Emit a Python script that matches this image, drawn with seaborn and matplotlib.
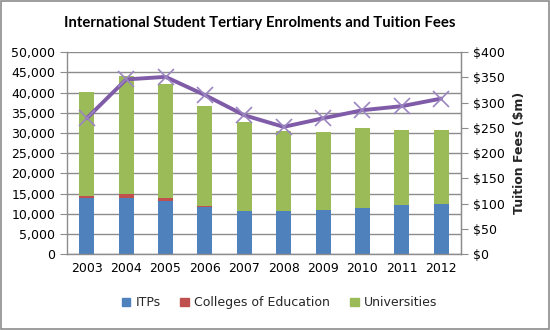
import numpy as np
import pandas as pd
import matplotlib
matplotlib.use("Agg")
import matplotlib.pyplot as plt
import seaborn as sns
from matplotlib.patches import Patch, Rectangle
from matplotlib.ticker import FuncFormatter, MultipleLocator

years = ["2003", "2004", "2005", "2006", "2007", "2008", "2009", "2010", "2011", "2012"]
itps = [14000, 14000, 13100, 11550, 10600, 10600, 10900, 11500, 12050, 12400]
colleges = [350, 850, 700, 400, 60, 40, 30, 30, 30, 30]
universities = [25750, 29250, 28200, 24650, 22040, 19760, 19370, 19670, 18620, 18270]
tuition_fees = [269, 346, 351, 315, 275, 252, 269, 285, 293, 308]

BLUE = "#4F81BD"
RED = "#C0504D"
GREEN = "#9BBB59"
PURPLE = "#7F5BA8"
GRID = "#8C8C8C"

df = pd.DataFrame({
    "year": years,
    "itp": itps,
    "itp_col": np.add(itps, colleges),
    "total": np.add(np.add(itps, colleges), universities),
})

sns.set_style("white")
plt.rcParams["font.family"] = ["DejaVu Sans"]

fig = plt.figure(figsize=(5.5, 3.3), dpi=100)
ax = fig.add_axes([0.122, 0.230, 0.716, 0.612])

# Stacked bars: draw cumulative totals back to front
for col, color in [("total", GREEN), ("itp_col", RED), ("itp", BLUE)]:
    sns.barplot(data=df, x="year", y=col, color=color, width=0.38,
                saturation=1, ax=ax, zorder=2, edgecolor="none")

ax.set_ylim(0, 50000)
ax.set_xlim(-0.5, len(years) - 0.5)
ax.yaxis.set_major_locator(MultipleLocator(5000))
ax.yaxis.set_major_formatter(FuncFormatter(lambda v, p: f"{int(v):,}"))
ax.grid(axis="y", color=GRID, linewidth=1.0, zorder=0)
ax.set_axisbelow(True)
ax.set_xlabel("")
ax.set_ylabel("")
ax.spines["top"].set_visible(False)
for s in ["left", "bottom", "right"]:
    ax.spines[s].set_color(GRID)
    ax.spines[s].set_linewidth(1.0)

# Category ticks sit between bars
ax.set_xticks(np.arange(len(years)))
ax.set_xticklabels(years)
ax.tick_params(axis="x", length=0, labelsize=9, colors="black", pad=6)
ax.set_xticks(np.arange(-0.5, len(years) + 0.5, 1), minor=True)
ax.tick_params(axis="x", which="minor", length=5, color=GRID, direction="out")
ax.tick_params(axis="y", length=5, color=GRID, labelsize=9, colors="black", direction="out")

# Tuition fees on the secondary axis
ax2 = ax.twinx()
sns.lineplot(x=np.arange(len(years)), y=tuition_fees, ax=ax2, color=PURPLE,
             linewidth=2.8, marker="x", markersize=12, markeredgewidth=1.2,
             markeredgecolor="#9C86C2", zorder=5)
ax2.set_ylim(0, 400)
ax2.yaxis.set_major_locator(MultipleLocator(50))
ax2.yaxis.set_major_formatter(FuncFormatter(lambda v, p: f"${int(v)}"))
ax2.tick_params(axis="y", length=5, color=GRID, labelsize=9, colors="black", direction="out")
ax2.set_ylabel("Tuition Fees ($m)", fontsize=9, fontweight="bold", labelpad=6)
for s in ["top", "left", "bottom"]:
    ax2.spines[s].set_visible(False)
ax2.spines["right"].set_color(GRID)

fig.text(0.473, 0.930, "International Student Tertiary Enrolments and Tuition Fees",
         ha="center", va="center", fontsize=10.7, fontweight="bold", color="black",
         family=["Lato", "DejaVu Sans"])

handles = [Patch(color=BLUE, label="ITPs"),
           Patch(color=RED, label="Colleges of Education"),
           Patch(color=GREEN, label="Universities")]
fig.legend(handles=handles, loc="center", bbox_to_anchor=(0.508, 0.082), ncol=3,
           frameon=False, fontsize=9, handlelength=0.7, handleheight=0.7,
           handletextpad=0.4, columnspacing=1.6)

fig.patches.append(Rectangle((0.002, 0.003), 0.996, 0.994, transform=fig.transFigure,
                             fill=False, edgecolor="#8C8C8C", linewidth=1.2))

fig.savefig("out.png", dpi=100)
